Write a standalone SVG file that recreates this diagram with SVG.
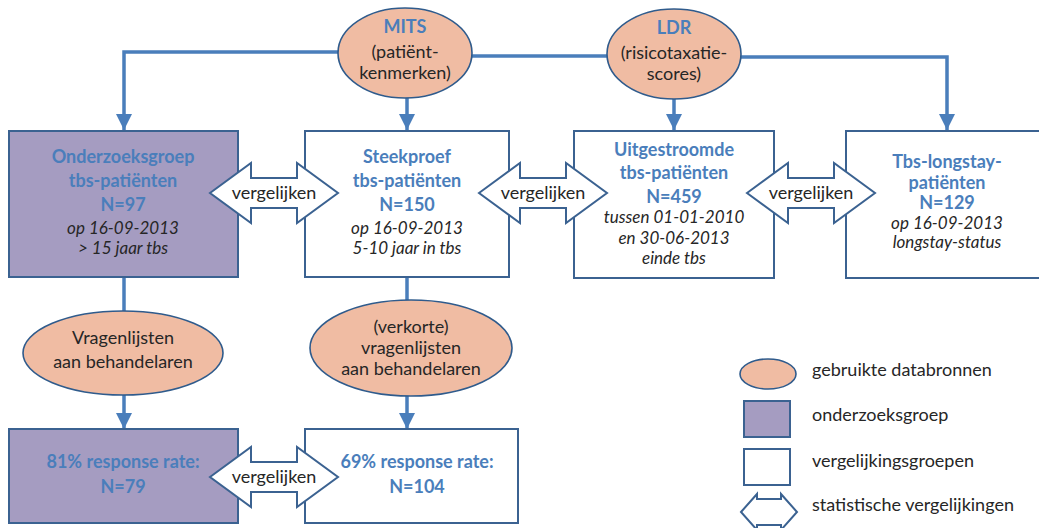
<svg xmlns="http://www.w3.org/2000/svg" width="1039" height="528" viewBox="0 0 1039 528">
<defs>
<style>
.src{fill:#f0bca3;stroke:#2f5b8c;stroke-width:1.6}
.grp{fill:#a59cc1;stroke:#3b6291;stroke-width:2}
.cmp{fill:#ffffff;stroke:#3b6291;stroke-width:2}
.arr{fill:#ffffff;stroke:#3b6291;stroke-width:2;stroke-linejoin:miter}
.con{fill:none;stroke:#4a7ebb;stroke-width:3.5}
text{font-family:Lato,"Open Sans","Liberation Sans",sans-serif;font-size:18px;fill:#262626;text-anchor:middle}
.b{font-weight:bold;fill:#4a7ebb}
.i{font-style:italic;font-size:17px}
.l{text-anchor:start}
</style>
<marker id="ah" markerUnits="userSpaceOnUse" markerWidth="16" markerHeight="16" refX="16" refY="8" orient="auto">
<path d="M0,0 L16,8 L0,16 z" fill="#4a7ebb"/>
</marker>
</defs>
<rect width="1039" height="528" fill="#ffffff"/>

<g id="connectors">
<polyline class="con" points="339,52 124,52 124,130" marker-end="url(#ah)"/>
<line class="con" x1="471" y1="56" x2="608" y2="56"/>
<polyline class="con" points="740,57 947,57 947,130" marker-end="url(#ah)"/>
<line class="con" x1="407" y1="98" x2="407" y2="130" marker-end="url(#ah)"/>
<line class="con" x1="674" y1="98" x2="674" y2="130" marker-end="url(#ah)"/>
<line class="con" x1="124" y1="277" x2="124" y2="311"/>
<line class="con" x1="124" y1="395" x2="124" y2="429" marker-end="url(#ah)"/>
<line class="con" x1="407" y1="277" x2="407" y2="300"/>
<line class="con" x1="407" y1="395" x2="407" y2="429" marker-end="url(#ah)"/>
</g>

<g id="mits">
<ellipse class="src" cx="405" cy="53" rx="67" ry="45"/>
<text x="405" y="33" class="b">MITS</text>
<text x="405" y="58">(patiënt-</text>
<text x="405" y="79">kenmerken)</text>
</g>

<g id="ldr">
<ellipse class="src" cx="674" cy="54" rx="67" ry="45"/>
<text x="674" y="34" class="b">LDR</text>
<text x="674" y="59">(risicotaxatie-</text>
<text x="674" y="80">scores)</text>
</g>

<g id="onderzoeksgroep">
<rect class="grp" x="9" y="131" width="229" height="146"/>
<text x="123" y="163" class="b">Onderzoeksgroep</text>
<text x="123" y="187" class="b">tbs-patiënten</text>
<text x="123" y="211" class="b">N=97</text>
<text x="123" y="234" class="i">op 16-09-2013</text>
<text x="123" y="254" class="i">&gt; 15 jaar tbs</text>
</g>

<g id="steekproef">
<rect class="cmp" x="305" y="131" width="204" height="146"/>
<text x="407" y="163" class="b">Steekproef</text>
<text x="407" y="187" class="b">tbs-patiënten</text>
<text x="407" y="211" class="b">N=150</text>
<text x="407" y="234" class="i">op 16-09-2013</text>
<text x="407" y="254" class="i">5-10 jaar in tbs</text>
</g>

<g id="uitgestroomde">
<rect class="cmp" x="574" y="131" width="200" height="147"/>
<text x="674" y="156" class="b">Uitgestroomde</text>
<text x="674" y="179" class="b">tbs-patiënten</text>
<text x="674" y="203" class="b">N=459</text>
<text x="674" y="223" class="i">tussen 01-01-2010</text>
<text x="674" y="244" class="i">en 30-06-2013</text>
<text x="674" y="264" class="i">einde tbs</text>
</g>

<g id="longstay">
<rect class="cmp" x="846" y="131" width="200" height="147"/>
<text x="947" y="168" class="b">Tbs-longstay-</text>
<text x="947" y="189" class="b">patiënten</text>
<text x="947" y="209" class="b">N=129</text>
<text x="947" y="229" class="i">op 16-09-2013</text>
<text x="947" y="248" class="i">longstay-status</text>
</g>

<g id="vragenlijsten">
<ellipse class="src" cx="123" cy="353" rx="100" ry="42"/>
<text x="123" y="344">Vragenlijsten</text>
<text x="123" y="368">aan behandelaren</text>
</g>

<g id="verkorte">
<ellipse class="src" cx="411" cy="348" rx="101" ry="48"/>
<text x="411" y="333">(verkorte)</text>
<text x="411" y="354">vragenlijsten</text>
<text x="411" y="375">aan behandelaren</text>
</g>

<g id="response81">
<rect class="grp" x="9" y="429" width="229" height="94"/>
<text x="123" y="468" class="b">81% response rate:</text>
<text x="123" y="493" class="b">N=79</text>
</g>

<g id="response69">
<rect class="cmp" x="305" y="429" width="213" height="94"/>
<text x="417" y="468" class="b">69% response rate:</text>
<text x="417" y="493" class="b">N=104</text>
</g>

<g id="vergelijken1">
<path class="arr" d="M210,193 L251,163 L251,178 L297,178 L297,163 L338,193 L297,223 L297,208 L251,208 L251,223 Z"/>
<text x="274" y="199">vergelijken</text>
</g>
<g id="vergelijken2">
<path class="arr" d="M479,193 L520,163 L520,178 L566,178 L566,163 L607,193 L566,223 L566,208 L520,208 L520,223 Z"/>
<text x="543" y="199">vergelijken</text>
</g>
<g id="vergelijken3">
<path class="arr" d="M747,193 L788,163 L788,178 L834,178 L834,163 L875,193 L834,223 L834,208 L788,208 L788,223 Z"/>
<text x="811" y="199">vergelijken</text>
</g>
<g id="vergelijken4">
<path class="arr" d="M210,477 L251,447 L251,462 L297,462 L297,447 L338,477 L297,507 L297,492 L251,492 L251,507 Z"/>
<text x="274" y="483">vergelijken</text>
</g>

<g id="legend">
<ellipse class="src" cx="768" cy="374" rx="28" ry="15"/>
<text x="812" y="376" class="l">gebruikte databronnen</text>
<rect class="grp" x="744" y="401" width="46" height="36"/>
<text x="812" y="421" class="l">onderzoeksgroep</text>
<rect class="cmp" x="744" y="449" width="46" height="36"/>
<text x="812" y="467" class="l">vergelijkingsgroepen</text>
<path class="arr" d="M741,512 L757,494 L757,499 L781,499 L781,494 L797,512 L781,530 L781,525 L757,525 L757,530 Z"/>
<text x="812" y="511" class="l">statistische vergelijkingen</text>
</g>
</svg>
